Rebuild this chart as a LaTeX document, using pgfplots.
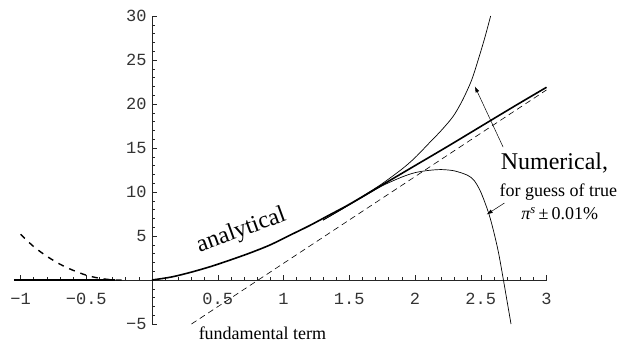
\documentclass[border=0pt]{standalone}
\usepackage{fontspec}
\setmainfont{Liberation Serif}
\setmonofont{Liberation Mono}
\usepackage{pgfplots}
\pgfplotsset{compat=1.18}
\usetikzlibrary{arrows.meta}
\begin{document}
\begin{tikzpicture}
\begin{axis}[
  x=131.5pt, y=8.8pt,
  xmin=-1.05, xmax=3, ymin=-5, ymax=30,
  axis lines=middle,
  axis line style={line width=0.6pt, black!85, -},
  xtick={-1,-0.5,0.5,1,1.5,2,2.5,3},
  xticklabels={−1,−0.5,0.5,1,1.5,2,2.5,3},
  ytick={-5,5,10,15,20,25,30},
  yticklabels={−5,5,10,15,20,25,30},
  minor xtick={-1,-0.9,-0.8,-0.7,-0.6,-0.4,-0.3,-0.2,-0.1,0.1,0.2,0.3,0.4,0.6,0.7,0.8,0.9,1.1,1.2,1.3,1.4,1.6,1.7,1.8,1.9,2.1,2.2,2.3,2.4,2.6,2.7,2.8,2.9},
  minor ytick={-4,-3,-2,-1,1,2,3,4,6,7,8,9,11,12,13,14,16,17,18,19,21,22,23,24,26,27,28,29},
  tick align=inside,
  major tick length=5pt, minor tick length=3pt,
  tick style={black!85, line width=0.5pt},
  xticklabel style={font=\ttfamily\fontsize{17}{17}\selectfont, text=black!80, yshift=-10pt},
  yticklabel style={font=\ttfamily\fontsize{17}{17}\selectfont, text=black!80, xshift=-2pt},
  clip=false,
]
% thick zero segment on the left
\addplot[black, line width=1.5pt] coordinates {(-1.05,0) (-0.28,0)};
% left dashed branch
\addplot[black, line width=1.4pt, dash pattern=on 6pt off 6pt, smooth] coordinates {
 (-1.0,5.2) (-0.9,3.8) (-0.8,2.7) (-0.7,1.8) (-0.6,1.1) (-0.5,0.55) (-0.4,0.2) (-0.3,0.02) (-0.2,0)};
% fundamental term
\addplot[black, line width=0.6pt, dash pattern=on 6pt off 4pt] coordinates {(0.3,-5) (3,21.6)};
% analytical
\addplot[black, line width=1.6pt, smooth] coordinates {
 (0,0) (0.15,0.35) (0.3,0.9) (0.45,1.55) (0.6,2.3) (0.75,3.1) (0.9,4.0) (1.05,5.1)
 (1.2,6.2) (1.35,7.4) (1.5,8.6) (1.75,10.8) (2,13.0) (2.25,15.2) (2.5,17.45) (2.75,19.7) (3,21.9)};
% numerical upper
\addplot[black, line width=0.7pt, smooth] coordinates {
 (1.3,6.8) (1.45,8.1) (1.6,9.5) (1.75,10.95) (1.9,12.6) (2.0,13.9) (2.11,15.6) (2.2,17.0)
 (2.29,18.6) (2.36,20.4) (2.43,22.7) (2.48,25) (2.53,27.5) (2.575,30)};
% numerical lower
\addplot[black, line width=0.7pt, smooth] coordinates {
 (1.3,6.8) (1.45,8.1) (1.6,9.4) (1.75,10.7) (1.9,11.7) (2.0,12.2) (2.1,12.45) (2.2,12.55)
 (2.3,12.4) (2.4,11.9) (2.45,11.3) (2.5,10.0) (2.56,7.6) (2.6,5.4) (2.635,3.1) (2.67,0.2) (2.7,-2.4) (2.73,-5)};
% annotations
\draw[-{Latex[length=6pt,width=4pt]}, line width=0.5pt] (axis cs:2.67,15.1) -- (axis cs:2.455,22.0);
\draw[-{Latex[length=6pt,width=4pt]}, line width=0.5pt] (axis cs:2.68,8.75) -- (axis cs:2.545,7.45);
\node[font=\fontsize{24}{24}\selectfont] at (axis cs:3.06,13.3) {Numerical,};
\node[font=\fontsize{18}{18}\selectfont] at (axis cs:3.09,10.0) {for guess of true};
\node[font=\fontsize{18}{18}\selectfont] at (axis cs:3.10,7.5) {{\itshape π}\textsuperscript{\itshape s}\,±\,0.01\%};
\node[font=\fontsize{18}{18}\selectfont] at (axis cs:0.84,-6.0) {fundamental term};
\node[rotate=20, font=\fontsize{24}{24}\selectfont, inner sep=0pt] at (axis cs:0.68,5.6) {analytical};
\coordinate (bl) at (axis cs:-1.156,-7.16);
\coordinate (tr) at (axis cs:3.574,31.82);
\end{axis}
\pgfresetboundingbox
\path[use as bounding box] (bl) rectangle (tr);
\end{tikzpicture}
\end{document}
